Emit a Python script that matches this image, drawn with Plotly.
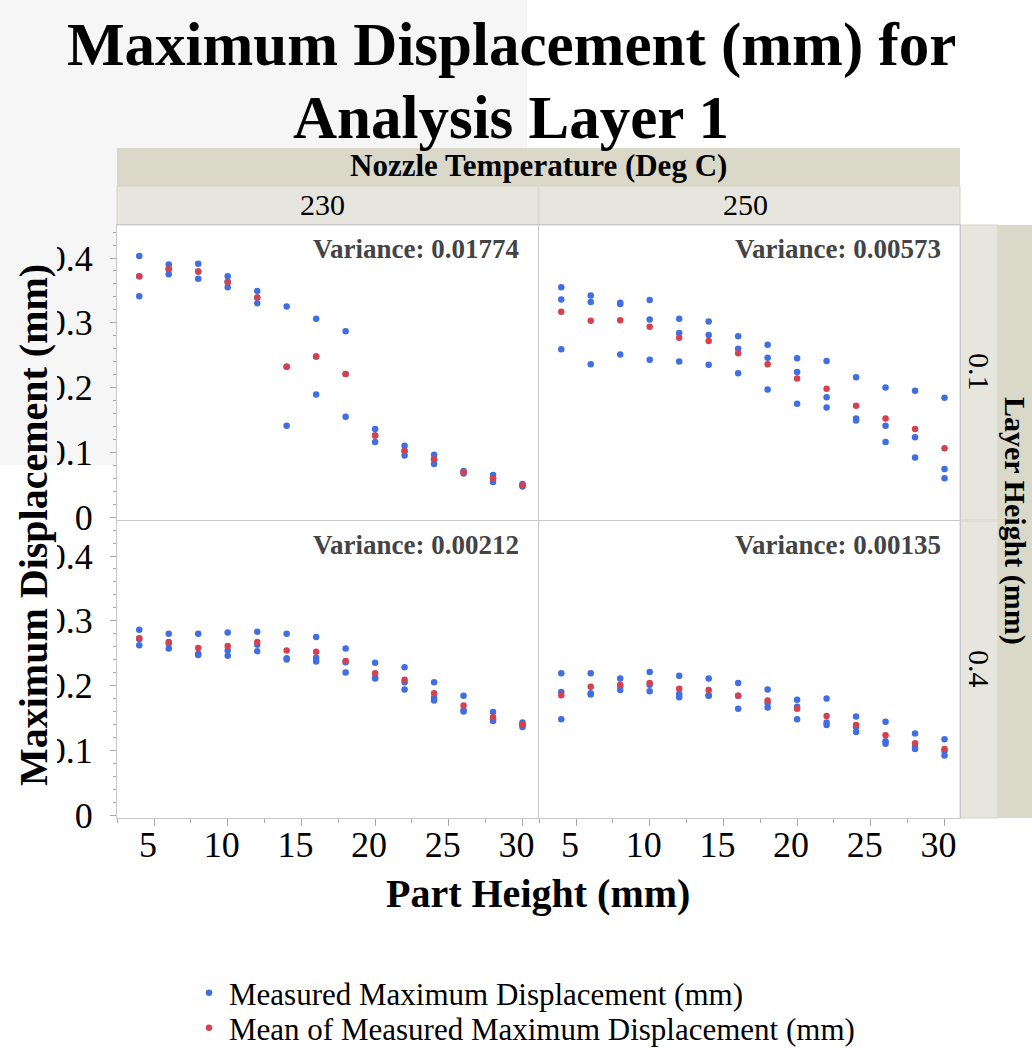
import plotly.graph_objects as go

W, H = 1032, 1048

# ---------------------------------------------------------------- data
part_height = [4, 6, 8, 10, 12, 14, 16, 18, 20, 22, 24, 26, 28, 30]

temperatures = ["230", "250"]
layer_heights = ["0.1", "0.4"]

# three measured replicates per part height, one list per facet
measured_230_01 = [
    [0.403, 0.372, 0.341], [0.390, 0.383, 0.375], [0.391, 0.379, 0.368],
    [0.372, 0.363, 0.355], [0.349, 0.339, 0.330], [0.325, 0.232, 0.141],
    [0.306, 0.248, 0.189], [0.287, 0.221, 0.155], [0.136, 0.126, 0.116],
    [0.110, 0.102, 0.095], [0.096, 0.089, 0.082], [0.071, 0.069, 0.067],
    [0.065, 0.060, 0.054], [0.051, 0.049, 0.047],
]
mean_230_01 = [0.372, 0.383, 0.379, 0.363, 0.339, 0.232, 0.248, 0.221,
               0.126, 0.102, 0.089, 0.069, 0.060, 0.049]

measured_250_01 = [
    [0.355, 0.336, 0.259], [0.342, 0.332, 0.236], [0.331, 0.329, 0.251],
    [0.335, 0.305, 0.243], [0.306, 0.284, 0.240], [0.302, 0.281, 0.235],
    [0.279, 0.260, 0.222], [0.266, 0.246, 0.197], [0.245, 0.224, 0.175],
    [0.241, 0.185, 0.169], [0.216, 0.152, 0.149], [0.200, 0.141, 0.116],
    [0.195, 0.123, 0.092], [0.184, 0.074, 0.060],
]
mean_250_01 = [0.317, 0.303, 0.304, 0.294, 0.277, 0.272, 0.253, 0.236,
               0.214, 0.198, 0.172, 0.152, 0.136, 0.106]

measured_230_04 = [
    [0.286, 0.272, 0.262], [0.280, 0.265, 0.257], [0.280, 0.249, 0.247],
    [0.282, 0.254, 0.246], [0.283, 0.263, 0.253], [0.280, 0.242, 0.240],
    [0.275, 0.243, 0.237], [0.257, 0.236, 0.220], [0.235, 0.212, 0.211],
    [0.228, 0.205, 0.194], [0.205, 0.181, 0.177], [0.184, 0.162, 0.160],
    [0.159, 0.148, 0.145], [0.143, 0.139, 0.136],
]
mean_230_04 = [0.273, 0.267, 0.258, 0.261, 0.267, 0.254, 0.252, 0.238,
               0.219, 0.209, 0.188, 0.169, 0.151, 0.140]

measured_250_04 = [
    [0.219, 0.190, 0.148], [0.219, 0.188, 0.186], [0.211, 0.199, 0.193],
    [0.221, 0.201, 0.191], [0.215, 0.187, 0.182], [0.211, 0.185, 0.184],
    [0.204, 0.184, 0.164], [0.194, 0.173, 0.166], [0.178, 0.167, 0.148],
    [0.180, 0.143, 0.139], [0.152, 0.136, 0.128], [0.144, 0.114, 0.110],
    [0.126, 0.105, 0.102], [0.117, 0.099, 0.092],
]
mean_250_04 = [0.185, 0.198, 0.201, 0.204, 0.195, 0.193, 0.184, 0.177,
               0.164, 0.153, 0.139, 0.123, 0.111, 0.102]

variance_labels = ["Variance: 0.01774", "Variance: 0.00573",
                   "Variance: 0.00212", "Variance: 0.00135"]

# ---------------------------------------------------------------- style
SERIF = "Liberation Serif"
BLUE = "#3F6FE3"
RED = "#D5414F"
STRIP_DARK = "#DAD8C9"
STRIP_LIGHT = "#E7E6DE"
TITLE_BG = "#F6F6F6"
FRAME = "#C8C8C8"
TICK = "#A8A8A8"


def px(x):
    return x / W


def py(y):
    return 1 - y / H


# panel pixel boxes: (left, right) and (top, bottom)
col_px = [(117, 538), (539, 960)]
row_px = [(225, 520), (521, 818)]
zero_px = [517, 815]          # pixel row of y = 0 in each facet row
PX_PER_UNIT = 647.5           # vertical pixels per 1 mm of displacement

facets = [
    (0, 0, measured_230_01, mean_230_01),
    (0, 1, measured_250_01, mean_250_01),
    (1, 0, measured_230_04, mean_230_04),
    (1, 1, measured_250_04, mean_250_04),
]

fig = go.Figure()
layout_axes = {}

for i, (r, c, meas, mean) in enumerate(facets):
    n = i + 1
    xa = "x" if n == 1 else f"x{n}"
    ya = "y" if n == 1 else f"y{n}"
    xs, ys = [], []
    for h, reps in zip(part_height, meas):
        for v in reps:
            xs.append(h)
            ys.append(v)
    fig.add_trace(go.Scatter(
        x=xs, y=ys, mode="markers", xaxis=xa, yaxis=ya,
        marker=dict(color=BLUE, size=6.5),
        name="Measured Maximum Displacement (mm)",
        showlegend=(n == 1), legend="legend",
    ))
    fig.add_trace(go.Scatter(
        x=part_height, y=mean, mode="markers", xaxis=xa, yaxis=ya,
        marker=dict(color=RED, size=6.5),
        name="Mean of Measured Maximum Displacement (mm)",
        showlegend=(n == 1), legend="legend2",
    ))

    l, rr = col_px[c]
    t, b = row_px[r]
    bottom_row = r == 1
    left_col = c == 0
    y_top = (zero_px[r] - t) / PX_PER_UNIT
    y_bot = (zero_px[r] - b) / PX_PER_UNIT

    xkey = "xaxis" if n == 1 else f"xaxis{n}"
    ykey = "yaxis" if n == 1 else f"yaxis{n}"
    layout_axes[xkey] = dict(
        domain=[px(l), px(rr)], anchor=ya, range=[2.49, 31.05],
        tick0=0, dtick=5, showgrid=False, zeroline=False,
        showline=True, linecolor=FRAME, linewidth=1, mirror=True,
        ticks="outside" if bottom_row else "", ticklen=7, tickcolor=TICK,
        minor=dict(dtick=2.5, tick0=0, ticks="outside" if bottom_row else "",
                   ticklen=4, tickcolor=TICK),
        showticklabels=bottom_row, ticklabelstandoff=-12, ticklabelshift=-6,
        tickfont=dict(family=SERIF, size=36, color="black"),
    )
    layout_axes[ykey] = dict(
        domain=[py(b), py(t)], anchor=xa, range=[y_bot, y_top],
        tick0=0, dtick=0.1, showgrid=False, zeroline=False,
        showline=True, linecolor=FRAME, linewidth=1, mirror=True,
        ticks="outside" if left_col else "", ticklen=6, tickcolor=TICK,
        minor=dict(dtick=0.02, tick0=0, ticks="outside" if left_col else "",
                   ticklen=3, tickcolor=TICK),
        showticklabels=left_col, ticklabelstandoff=10,
        tickfont=dict(family=SERIF, size=36, color="black"),
    )

shapes = []
annotations = []


def rect(x0, y0, x1, y1, fill, line=None, layer="below"):
    shapes.append(dict(
        type="rect", xref="paper", yref="paper",
        x0=px(x0), x1=px(x1), y0=py(y1), y1=py(y0),
        fillcolor=fill, layer=layer,
        line=dict(width=1 if line else 0, color=line or fill),
    ))


def text(x, y, s, size, bold=False, angle=0, color="black",
         xanchor="center", yanchor="middle"):
    annotations.append(dict(
        xref="paper", yref="paper", x=px(x), y=py(y),
        text=f"<b>{s}</b>" if bold else s, showarrow=False,
        textangle=angle, xanchor=xanchor, yanchor=yanchor,
        font=dict(family=SERIF, size=size, color=color),
    ))


# pale header area behind the title
rect(0, 0, 527, 148, TITLE_BG)
rect(0, 148, 117, 465, TITLE_BG)

# column strips
rect(117, 148, 960, 186, STRIP_DARK)
rect(117, 186, 538, 225, STRIP_LIGHT, line="#D4D3C8")
rect(539, 186, 960, 225, STRIP_LIGHT, line="#D4D3C8")
text(538, 166, "Nozzle Temperature (Deg C)", 31, bold=True)
text(322, 205, temperatures[0], 30)
text(745, 205, temperatures[1], 30)

# row strips
rect(960, 225, 998, 520, STRIP_LIGHT, line="#D4D3C8")
rect(960, 521, 998, 818, STRIP_LIGHT, line="#D4D3C8")
rect(998, 225, 1032, 818, STRIP_DARK)
text(980, 372, layer_heights[0], 30, angle=90)
text(980, 669, layer_heights[1], 30, angle=90)
text(1015, 521, "Layer Height (mm)", 30, bold=True, angle=90)

# backing box of the vertical axis title
rect(0, 225, 57, 465, TITLE_BG, layer="above")
rect(0, 465, 57, 830, "white", layer="above")

# titles
text(511, 45, "Maximum Displacement (mm) for", 61, bold=True)
text(511, 117, "Analysis Layer 1", 61, bold=True)
text(33, 525, "Maximum Displacement (mm)", 40, bold=True, angle=-90)
text(538, 893, "Part Height (mm)", 40, bold=True)

# variance read-outs per facet
var_pos = [(521, 249), (943, 249), (521, 545), (943, 545)]
for (x, y), s in zip(var_pos, variance_labels):
    text(x, y, s, 27, bold=True, color="#444444", xanchor="right")

legend_common = dict(
    xref="paper", yref="paper", xanchor="left", yanchor="middle",
    bgcolor="rgba(0,0,0,0)", borderwidth=0,
    font=dict(family=SERIF, size=31, color="black"),
    itemsizing="trace",
)

fig.update_layout(
    width=W, height=H,
    margin=dict(l=0, r=0, t=0, b=0, autoexpand=False),
    paper_bgcolor="white", plot_bgcolor="white",
    shapes=shapes, annotations=annotations,
    legend=dict(x=px(189), y=py(993), **legend_common),
    legend2=dict(x=px(189), y=py(1028), **legend_common),
    **layout_axes,
)

fig.write_html("out.html")
